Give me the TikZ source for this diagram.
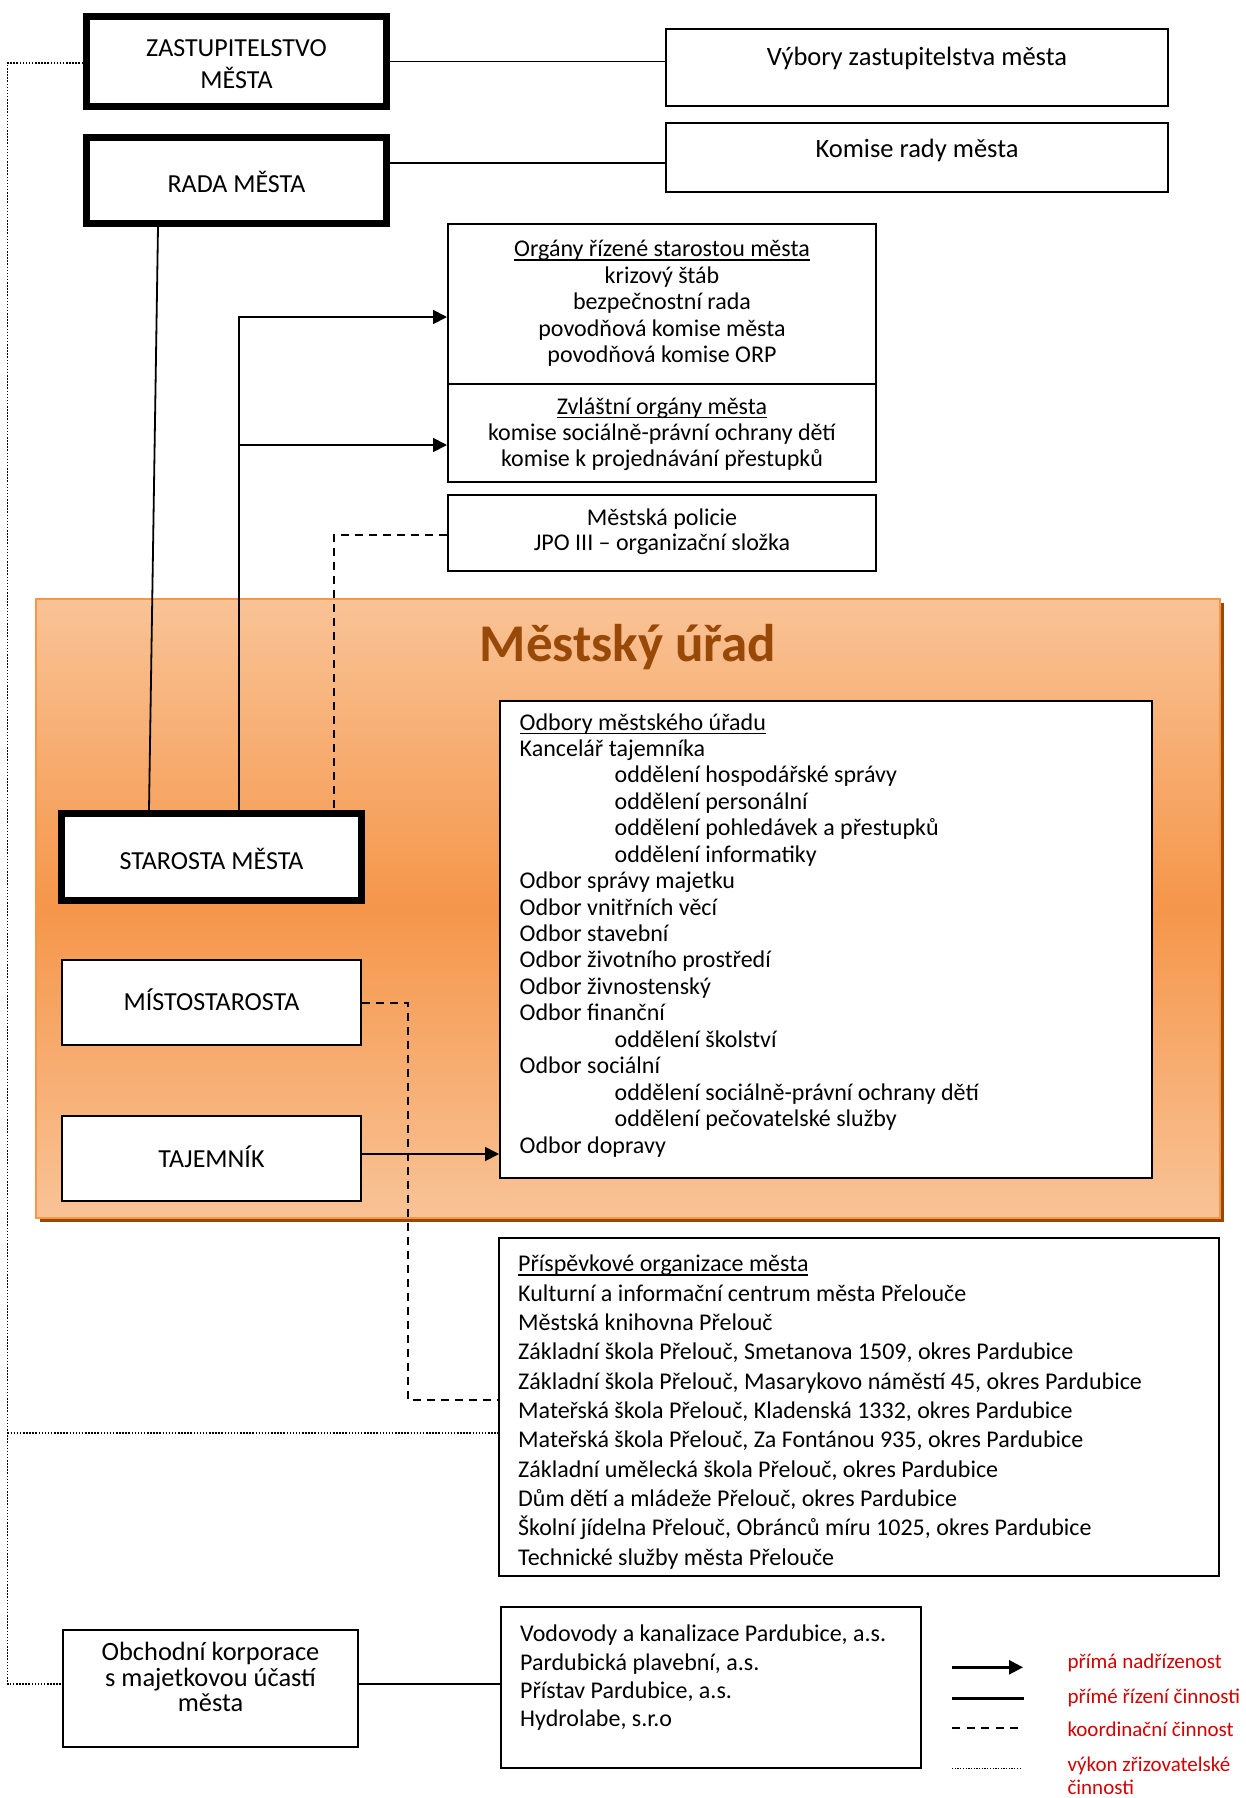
\documentclass[tikz,border=0pt]{standalone}
\usepackage{fontspec}
\setmainfont{Carlito}
\usetikzlibrary{arrows.meta,calc,shadows}
\definecolor{uradedge}{HTML}{F79646}
\definecolor{uradlight}{HTML}{F9C396}
\definecolor{uradmid}{HTML}{F5964A}
\definecolor{brownd}{HTML}{984807}
\definecolor{legred}{RGB}{210,0,0}
\newcommand\myul[1]{\setbox0\hbox{#1}\rlap{\rule[-4.3pt]{\wd0}{1.8pt}}\box0}
\begin{document}
\begin{tikzpicture}[x=1pt,y=-1pt,
  plainbox/.style={draw=black, line width=2pt, fill=white, inner sep=0pt},
  heavybox/.style={plainbox, line width=7pt},
  conn/.style={draw=black, line width=1.8pt},
  arr/.style={conn, -{Triangle[length=14pt,width=14pt]}},
  dashln/.style={draw=black, line width=2pt, dash pattern=on 8pt off 6pt},
  dotln/.style={draw=black, line width=1.6pt, dash pattern=on 1.5pt off 1.6pt},
  tx/.style={inner sep=0pt, anchor=base, font=\fontsize{24}{28}\selectfont},
  txl/.style={tx, anchor=base west},
  captx/.style={inner sep=0pt, anchor=base, font=\fontsize{26}{30}\selectfont},
  legtx/.style={inner sep=0pt, anchor=base west, text=legred, font=\fontsize{21}{24}\selectfont}]
\useasboundingbox (0,0) rectangle (1246,1798);

% Mestsky urad container
\node[draw=uradedge, line width=1.5pt, inner sep=0pt,
      minimum width=1184, minimum height=619,
      top color=uradlight, bottom color=uradlight, middle color=uradmid,
      drop shadow={shadow xshift=4pt, shadow yshift=-4pt, fill=brownd, opacity=1}]
      (urad) at (628,908.5) {};
\node[inner sep=0pt, anchor=base, text=brownd, font=\fontsize{53}{60}\selectfont\bfseries]
      (title) at (628,661.7) {Městský úřad};

% boxes
\node[heavybox, minimum width=300, minimum height=90] (zast) at (236.5,61.5) {};
\node[heavybox, minimum width=300, minimum height=86] (rada) at (236.5,180.5) {};
\node[plainbox, minimum width=502, minimum height=77] (vybory) at (917,67.5) {};
\node[plainbox, minimum width=502, minimum height=69] (komise) at (917,157.5) {};
\node[plainbox, minimum width=428, minimum height=160] (organy) at (662,304) {};
\node[plainbox, minimum width=428, minimum height=98] (zvlastni) at (662,433) {};
\node[plainbox, minimum width=428, minimum height=76] (policie) at (662,533) {};
\node[plainbox, minimum width=652, minimum height=477] (odbory) at (826,939.5) {};
\node[heavybox, minimum width=300, minimum height=87] (starosta) at (211.5,857) {};
\node[plainbox, minimum width=299, minimum height=85] (misto) at (211.5,1002.5) {};
\node[plainbox, minimum width=299, minimum height=85] (tajemnik) at (211.5,1158.5) {};
\node[plainbox, minimum width=720, minimum height=338] (prisp) at (858.5,1407) {};
\node[plainbox, minimum width=295, minimum height=117] (obchodni) at (210.5,1688.5) {};
\node[plainbox, minimum width=420, minimum height=161] (vodovody) at (711,1687.5) {};

% texts
\node[captx] (tz1) at (236.5,56.5) {ZASTUPITELSTVO};
\node[captx] (tz2) at (236.5,88.3) {MĚSTA};
\node[captx] (tr) at (236.5,192.3) {RADA MĚSTA};
\node[captx, font=\fontsize{26.5}{30}\selectfont] (tv) at (917,65.5) {Výbory zastupitelstva města};
\node[captx, font=\fontsize{26.5}{30}\selectfont] (tk) at (917,158) {Komise rady města};

\node[tx] (to0) at (662,256.7) {\myul{Orgány řízené starostou města}};
\node[tx] (to1) at (662,283.2) {krizový štáb};
\node[tx] (to2) at (662,309.7) {bezpečnostní rada};
\node[tx] (to3) at (662,336.2) {povodňová komise města};
\node[tx] (to4) at (662,362.7) {povodňová komise ORP};
\node[tx] (tzv0) at (662,414) {\myul{Zvláštní orgány města}};
\node[tx] (tzv1) at (662,440.3) {komise sociálně-právní ochrany dětí};
\node[tx] (tzv2) at (662,466.7) {komise k projednávání přestupků};
\node[tx] (tp1) at (662,525) {Městská policie};
\node[tx] (tp2) at (662,550.7) {JPO III – organizační složka};

\node[txl] (od0) at (519.5,730) {\myul{Odbory městského úřadu}};
\foreach \t/\xx [count=\i from 1] in {
  {Kancelář tajemníka}/519.5,
  {oddělení hospodářské správy}/614.4,
  {oddělení personální}/614.4,
  {oddělení pohledávek a přestupků}/614.4,
  {oddělení informatiky}/614.4,
  {Odbor správy majetku}/519.5,
  {Odbor vnitřních věcí}/519.5,
  {Odbor stavební}/519.5,
  {Odbor životního prostředí}/519.5,
  {Odbor živnostenský}/519.5,
  {Odbor finanční}/519.5,
  {oddělení školství}/614.4,
  {Odbor sociální}/519.5,
  {oddělení sociálně-právní ochrany dětí}/614.4,
  {oddělení pečovatelské služby}/614.4,
  {Odbor dopravy}/519.5}
  \node[txl] (od\i) at (\xx,{730+26.44*\i}) {\t};

\node[captx] (ts) at (211.5,869.3) {STAROSTA MĚSTA};
\node[captx] (tm) at (211.5,1010.7) {MÍSTOSTAROSTA};
\node[captx] (tt) at (211.5,1167.7) {TAJEMNÍK};

\node[txl] (pr0) at (518,1271.7) {\myul{Příspěvkové organizace města}};
\foreach \t [count=\i from 1] in {
  {Kulturní a informační centrum města Přelouče},
  {Městská knihovna Přelouč},
  {Základní škola Přelouč, Smetanova 1509, okres Pardubice},
  {Základní škola Přelouč, Masarykovo náměstí 45, okres Pardubice},
  {Mateřská škola Přelouč, Kladenská 1332, okres Pardubice},
  {Mateřská škola Přelouč, Za Fontánou 935, okres Pardubice},
  {Základní umělecká škola Přelouč, okres Pardubice},
  {Dům dětí a mládeže Přelouč, okres Pardubice},
  {Školní jídelna Přelouč, Obránců míru 1025, okres Pardubice},
  {Technické služby města Přelouče}}
  \node[txl] (pr\i) at (518,{1271.7+29.33*\i}) {\t};

\node[captx, font=\fontsize{26.4}{30}\selectfont] (tob1) at (210.5,1660.7) {Obchodní korporace};
\node[captx, font=\fontsize{26.4}{30}\selectfont] (tob2) at (210.5,1686.2) {s majetkovou účastí};
\node[captx, font=\fontsize{26.4}{30}\selectfont] (tob3) at (210.5,1711.7) {města};

\node[txl] (vo1) at (520,1641.7) {Vodovody a kanalizace Pardubice, a.s.};
\node[txl] (vo2) at (520,1670) {Pardubická plavební, a.s.};
\node[txl] (vo3) at (520,1698.3) {Přístav Pardubice, a.s.};
\node[txl] (vo4) at (520,1726.7) {Hydrolabe, s.r.o};

% connectors
\draw[conn] (zast.east) -- (zast.east -| vybory.west);
\coordinate (re) at ($(rada.east)+(0,-17.5)$);
\draw[conn] (re) -- (re -| komise.west);
\draw[conn] ($(rada.south)+(-78.5,0)$) -- ($(starosta.north)+(-62.5,0)$);
\coordinate (s1) at ($(starosta.north)+(27.5,0)$);
\coordinate (og) at ($(organy.west)+(0,13)$);
\coordinate (zv) at ($(zvlastni.west)+(0,12)$);
\draw[arr] (s1) |- (og);
\draw[arr] (s1 |- zv) -- (zv);
\coordinate (pw) at ($(policie.west)+(0,2)$);
\draw[dashln] (pw) -| ($(starosta.north)+(122.5,0)$);
\coordinate (pd) at ($(prisp.west)+(0,-7)$);
\draw[dashln] (misto.east) -- ++(46,0) |- (pd);
\coordinate (te) at ($(tajemnik.east)+(0,-4.5)$);
\draw[arr] (te) -- (te -| odbory.west);
\coordinate (dz) at ($(zast.west)+(0,1.5)$);
\coordinate (dl) at ($(dz)+(-75.5,0)$);
\coordinate (dob) at ($(obchodni.west)+(0,-4.5)$);
\coordinate (dpr) at ($(prisp.west)+(0,25.7)$);
\draw[dotln] (dz) -- (dl) |- (dob);
\draw[dotln] (dl |- dpr) -- (dpr);
\coordinate (oe) at ($(obchodni.east)+(0,-4.5)$);
\draw[conn, line width=2.3pt] (oe) -- (oe -| vodovody.west);

% legend
\coordinate (la1) at (952,1667.3); \coordinate (la2) at (1023,1667.3);
\coordinate (lb1) at (952,1698.3); \coordinate (lb2) at (1024,1698.3);
\coordinate (lc1) at (952,1728.3); \coordinate (lc2) at (1024,1728.3);
\coordinate (ld1) at (952,1768.3); \coordinate (ld2) at (1022,1768.3);
\draw[arr, line width=2.5pt] (la1) -- (la2);
\draw[conn, line width=2.5pt] (lb1) -- (lb2);
\draw[dashln, dash pattern=on 8pt off 6.5pt] (lc1) -- (lc2);
\draw[dotln, line width=1.4pt, dash pattern=on 1.3pt off 1.4pt] (ld1) -- (ld2);
\node[legtx] (lg1) at (1067.3,1668.3) {přímá nadřízenost};
\node[legtx] (lg2) at (1067.3,1703.3) {přímé řízení činnosti};
\node[legtx] (lg3) at (1067.3,1736.7) {koordinační činnost};
\node[legtx] (lg4) at (1067.3,1771) {výkon zřizovatelské};
\node[legtx] (lg5) at (1067.3,1794.5) {činnosti};
\end{tikzpicture}
\end{document}
